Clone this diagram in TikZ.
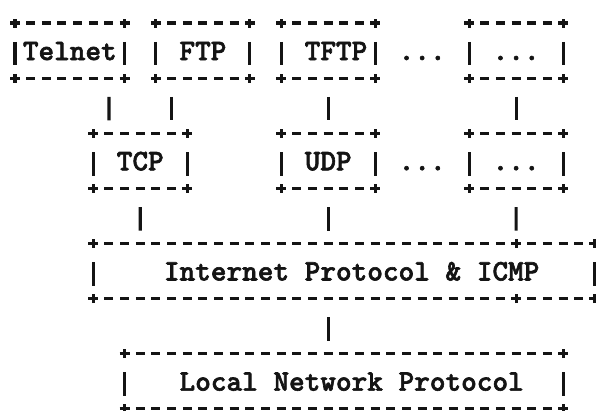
\documentclass[tikz,border=0pt]{standalone}
\usepackage{fontspec}
\newfontfamily\asciifont{lmmonolt10-bold.otf}[FakeBold=2]

% one character cell is 15.66pt wide, one text row is 27.55pt high
\tikzset{
  ink/.style={draw=black!92, line width=3.1pt},
  hrule/.style={ink, dash pattern=on 9pt off 6.66pt},
  vbar/.style={ink, shorten <=18.8pt, shorten >=12.8pt},
  cell/.style={inner sep=0pt, outer sep=0pt, text height=19pt, text depth=0pt,
    text=black!92, font=\asciifont\fontsize{29.8pt}{30pt}\selectfont},
}

% a "+" sign at a point
\newcommand\plusmark[1]{%
  \draw[ink] ([xshift=-5pt]#1) -- ([xshift=5pt]#1)
             ([yshift=-4.5pt]#1) -- ([yshift=4.5pt]#1);}

% box of ASCII rules: name, first column, last column, top row, label
\newcommand\asciibox[5]{%
  \node[cell, minimum width={(#3-#2)*15.66pt}, minimum height=55.1pt]
    (#1) at ({(#2+#3)/2},{#4+1}) {#5};
  \draw[hrule] ([xshift=11.16pt]#1.north west) -- ([xshift=-11.16pt]#1.north east);
  \draw[hrule] ([xshift=11.16pt]#1.south west) -- ([xshift=-11.16pt]#1.south east);
  \draw[ink] ([yshift=8.75pt]#1.west) -- ([yshift=-14.75pt]#1.west);
  \draw[ink] ([yshift=8.75pt]#1.east) -- ([yshift=-14.75pt]#1.east);
  \plusmark{#1.north west}\plusmark{#1.north east}%
  \plusmark{#1.south west}\plusmark{#1.south east}}

\begin{document}
\begin{tikzpicture}[x=15.66pt, y=-27.55pt]
\useasboundingbox (-15pt,23pt) rectangle (581pt,-387pt);

% application layer
\asciibox{telnet}{0}{7}{0}{Telnet}
\asciibox{ftp}{9}{15}{0}{FTP}
\asciibox{tftp}{17}{23}{0}{\hphantom{T}TFTP}
\node[cell] (appdots) at (26,1) {...};
\asciibox{appmore}{29}{35}{0}{...}

% transport layer
\asciibox{tcp}{5}{11}{4}{TCP}
\asciibox{udp}{17}{23}{4}{UDP}
\node[cell] (transdots) at (26,5) {...};
\asciibox{transmore}{29}{35}{4}{...}

% internet layer
\asciibox{ip}{5}{37}{8}{\hphantom{I}Internet Protocol \& ICMP}
\coordinate (ipjointop) at ([xshift=-78.3pt]ip.north east);
\coordinate (ipjoinbot) at ([xshift=-78.3pt]ip.south east);
\plusmark{ipjointop}
\plusmark{ipjoinbot}

% network access layer
\asciibox{lnp}{7}{35}{12}{\hphantom{L}Local Network Protocol}

% links between layers
\draw[vbar] ([xshift=39.15pt]telnet.south) -- ([xshift=-31.32pt]tcp.north);
\draw[vbar] ([xshift=-31.32pt]ftp.south) -- ([xshift=31.32pt]tcp.north);
\draw[vbar] (tftp.south) -- (udp.north);
\draw[vbar] (appmore.south) -- (transmore.north);
\draw[vbar] (tcp.south) -- ([xshift=-203.58pt]ip.north);
\draw[vbar] (udp.south) -- ([xshift=-15.66pt]ip.north);
\draw[vbar] (transmore.south) -- (ipjointop);
\draw[vbar] ([xshift=-15.66pt]ip.south) -- ([xshift=-15.66pt]lnp.north);
\end{tikzpicture}
\end{document}
